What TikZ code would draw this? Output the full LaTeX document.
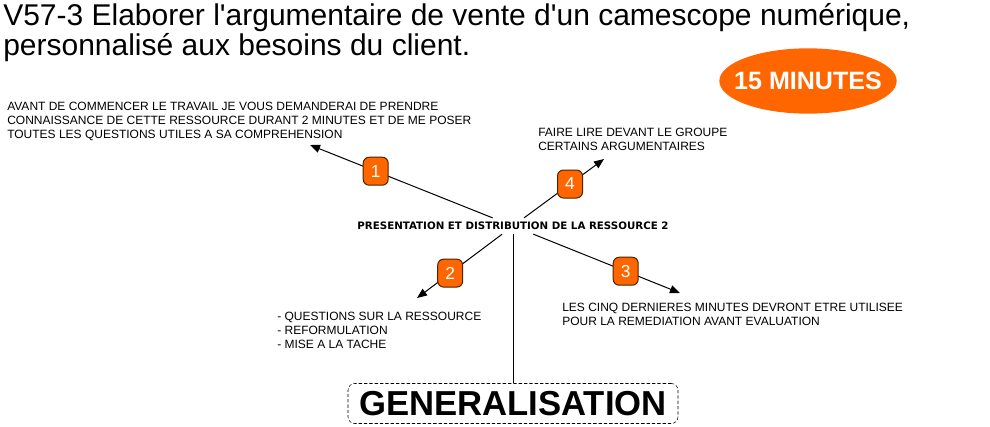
\documentclass[tikz,border=0pt]{standalone}
\usepackage{fontspec}
\setmainfont[Ligatures=TeXOff]{Liberation Sans}
\newfontfamily\verdana{DejaVu Sans}
\usetikzlibrary{arrows.meta,calc,positioning,shapes.geometric}
\definecolor{Orange}{HTML}{FF6600}
\definecolor{Brown}{HTML}{4D2200}
\tikzset{badge/.style={rounded corners=4.5pt,draw=Brown,fill=Orange,text=white,minimum width=18.75pt,minimum height=21pt,inner sep=0pt,font=\fontsize{13}{13}\selectfont},note/.style={anchor=north west,inner sep=0pt,align=left,font=\fontsize{9}{10.5}\selectfont},flow/.style={-{Triangle[length=7.5pt,width=6pt]},line width=.75pt},timer/.style={ellipse,fill=Orange,minimum width=133pt,minimum height=49pt,inner sep=0pt}}

\begin{document}
\begin{tikzpicture}[x=.75pt,y=-.75pt]
      \useasboundingbox(0,0)rectangle(990,426);
      \node[anchor=north west,inner sep=0pt,align=left,font=\fontsize{22.5}{22.5}\selectfont](title)at(3,3){V57-3 Elaborer l'argumentaire de vente d'un camescope numérique,\\personnalisé aux besoins du client.};
      \node[timer,label={[text=white,font=\bfseries\fontsize{18.8}{18.8}\selectfont]center:15 MINUTES}](time)at(808,81){};
      \node[inner sep=3pt,font=\verdana\bfseries\fontsize{7.7}{7.7}\selectfont](topic)at(513,226){PRESENTATION ET DISTRIBUTION DE LA RESSOURCE 2};
      \node[draw,dash pattern=on 2.5pt off 1.5pt,rounded corners=5pt,minimum width=247.5pt,minimum height=30pt,inner sep=0pt,font=\bfseries\fontsize{26}{26}\selectfont](gen)at(513,403.5){GENERALISATION};
      \coordinate(tip1)at(310,145);\coordinate(tip2)at(417,298);\coordinate(tip3)at(680,293);\coordinate(tip4)at(604,159);
      \draw[flow](topic)--node[badge,pos=.64]{1}(tip1);
      \draw[flow](topic)--node[badge,pos=.61]{2}(tip2);
      \draw[flow](topic)--node[badge,pos=.63]{3}(tip3);
      \draw[flow](topic)--node[badge,pos=.575]{4}(tip4);
      \draw[line width=.75pt](topic)--(gen);
      \node[note](n1)at(7,102){AVANT DE COMMENCER LE TRAVAIL JE VOUS DEMANDERAI DE PRENDRE\\CONNAISSANCE DE CETTE RESSOURCE DURANT 2 MINUTES ET DE ME POSER\\TOUTES LES QUESTIONS UTILES A SA COMPREHENSION};
      \node[note](n2)at(277,312){- QUESTIONS SUR LA RESSOURCE\\- REFORMULATION\\- MISE A LA TACHE};
      \node[note](n3)at(562,303){LES CINQ DERNIERES MINUTES DEVRONT ETRE UTILISEE\\POUR LA REMEDIATION AVANT EVALUATION};
      \node[note](n4)at(538,128){FAIRE LIRE DEVANT LE GROUPE\\CERTAINS ARGUMENTAIRES};
    \end{tikzpicture}
\end{document}
